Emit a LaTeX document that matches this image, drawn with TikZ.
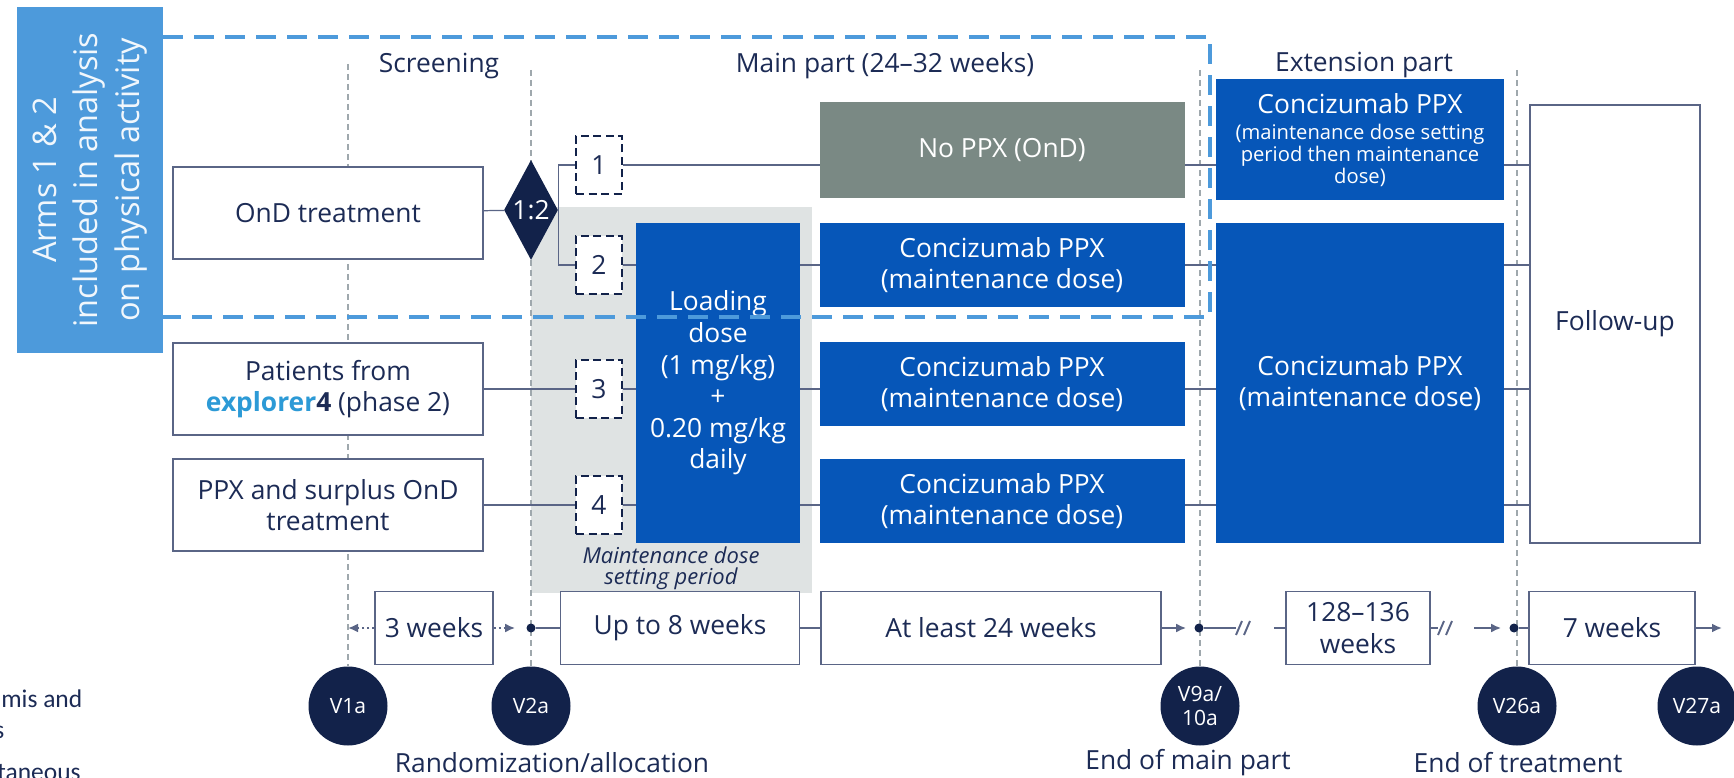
\documentclass[tikz,border=0pt]{standalone}
\usepackage{fontspec}
\setmainfont{Open Sans}
\newfontfamily\legendfont{Carlito}
\usepackage{xcolor}
\usepackage{tikz}
\usetikzlibrary{shapes.geometric,arrows.meta,backgrounds}
\definecolor{navy}{HTML}{12224A}
\definecolor{ink}{HTML}{1C2B55}
\definecolor{wire}{HTML}{5A6586}
\definecolor{dose}{HTML}{0656B8}
\definecolor{armsblue}{HTML}{4D9ADB}
\definecolor{sky}{HTML}{2C9AD6}
\definecolor{ondgray}{HTML}{7A8984}
\definecolor{fog}{HTML}{DFE3E3}
\definecolor{guidegray}{HTML}{9FA8AD}
\NewDocumentCommand{\sz}{mm}{\fontsize{#1}{#2}\selectfont}
\NewDocumentCommand{\explorer}{}{\textbf{\textcolor{sky}{explorer}4}}
\NewDocumentCommand{\gap}{m}{\draw[timeline] (#1) ++(0,7) -- ++(6,-14) (#1) ++(8,7) -- ++(6,-14);}
\tikzset{
	heading/.style={text=ink, inner sep=0pt, align=center, font=\sz{15}{18}},
	legend/.style={text=ink, inner sep=0pt, font=\legendfont\sz{14.5}{17}},
	box/.style={draw=wire, line width=0.8pt, fill=white, text=ink, align=center, inner sep=0pt, font=\sz{15}{18}},
	dosebox/.style={fill=dose, text=white, align=center, inner sep=0pt, font=\sz{15}{18}},
	armsbox/.style={fill=armsblue, text=white!92!armsblue, align=center, inner sep=0pt, font=\sz{18.5}{23.5}},
	armbox/.style={draw=navy, dash pattern=on 1.6mm off 0.9mm, line width=1.5pt, fill=white, text=ink, inner sep=0pt, minimum width=9.2mm, minimum height=11.6mm, font=\sz{15}{18}},
	randomize/.style={diamond, fill=navy, text=white, inner sep=0pt, aspect=0.5, minimum width=10.8mm, minimum height=20mm, font=\sz{15}{18}},
	visit/.style={circle, fill=navy, text=white, align=center, inner sep=0pt, minimum size=15.8mm, font=\sz{12}{14}},
	dot/.style={circle, fill=navy, inner sep=0pt, minimum size=1.8mm},
	link/.style={draw=wire, line width=0.7pt},
	timeline/.style={draw=wire, line width=1.1pt},
	dotline/.style={draw=wire, line width=1.1pt, dash pattern=on 0.5mm off 0.5mm},
	tip/.style={-{Latex[length=2mm,width=1.8mm]}},
	guideline/.style={draw=guidegray, line width=0.6pt, dash pattern=on 1.2mm off 0.8mm},
	region/.style={draw=armsblue, line width=2.6pt, dash pattern=on 4mm off 2.2mm},
}

\begin{document}
\begin{tikzpicture}[x=0.2mm, y=-0.2mm]
	\useasboundingbox (0,0) rectangle (1734,778);
	\begin{scope}[on background layer]
		\path (671,400) node[fill=fog, inner sep=0pt, minimum width=56.2mm, minimum height=77.2mm] (setting) {};
	\end{scope}

	\path (90,180) node[armsbox, rotate=90, minimum width=69.2mm, minimum height=29.2mm] (arms) {Arms 1 \& 2\\included in analysis\\on physical activity};

	\path (439,66) node[heading] (screening) {Screening};
	\path (885,66) node[heading] (mainpart) {Main part (24–32 weeks)};
	\path (1364,65) node[heading] (extension) {Extension part};

	\path (328,213) node[box, minimum width=62mm, minimum height=18.4mm] (ond) {OnD treatment};
	\path (ond) ++(0,176) node[box, minimum width=62mm, minimum height=18.4mm] (patients) {Patients from\\\explorer{} (phase 2)};
	\path (patients) ++(0,116) node[box, minimum width=62mm, minimum height=18.4mm] (surplus) {PPX and surplus OnD\\treatment};
	\path (531,210) node[randomize] (split) {1:2};

	\path (599,165) node[armbox] (arm1) {1};
	\path (arm1) ++(0,100) node[armbox] (arm2) {2};
	\path (599,389) node[armbox] (arm3) {3};
	\path (arm3) ++(0,116) node[armbox] (arm4) {4};

	\path (718,383) node[dosebox, minimum width=32.8mm, minimum height=64mm] (loading) {Loading\\dose\\(1 mg/kg)\\+\\0.20 mg/kg\\daily};
	\path (setting.south) ++(0,-25) node[heading, font=\itshape\sz{12.5}{12}] (settingnote) {Maintenance dose\\setting period};

	\path (1002,150) node[dosebox, fill=ondgray, minimum width=73mm, minimum height=19.2mm] (noppx) {No PPX (OnD)};
	\path (1002,265) node[dosebox, minimum width=73mm, minimum height=16.8mm] (main2) {Concizumab PPX\\(maintenance dose)};
	\path (1002,384) node[dosebox, minimum width=73mm, minimum height=16.8mm] (main3) {Concizumab PPX\\(maintenance dose)};
	\path (1002,501) node[dosebox, minimum width=73mm, minimum height=16.8mm] (main4) {Concizumab PPX\\(maintenance dose)};

	\path (1360,140) node[dosebox, minimum width=57.6mm, minimum height=24.2mm, font=\sz{11.5}{12.5}] (ext1) {{\sz{15}{18}Concizumab PPX}\\[2.3pt](maintenance dose setting\\period then maintenance\\dose)};
	\path (1360,383) node[dosebox, minimum width=57.6mm, minimum height=64mm] (ext2) {Concizumab PPX\\(maintenance dose)};
	\path (1615,324) node[box, minimum width=34mm, minimum height=87.6mm] (followup) {Follow-up};

	\path (434,628) node[box, minimum width=23.6mm, minimum height=14.6mm] (weeks3) {3 weeks};
	\path (680,628) node[box, minimum width=47.8mm, minimum height=14.6mm] (weeks8) {Up to 8 weeks};
	\path (991,628) node[box, minimum width=68mm, minimum height=14.6mm] (weeks24) {At least 24 weeks};
	\path (1358,628) node[box, minimum width=28.8mm, minimum height=14.6mm] (weeks128) {128–136\\weeks};
	\path (1612,628) node[box, minimum width=33.2mm, minimum height=14.6mm] (weeks7) {7 weeks};
	\path (531,628) node[dot] (d1) {};
	\path (1199,628) node[dot] (d2) {};
	\path (1514,628) node[dot] (d3) {};
	\coordinate (c1) at (1236,628);
	\coordinate (c2) at (1274,628);
	\coordinate (c3) at (1438,628);
	\coordinate (c4) at (1474,628);
	\coordinate (tend) at (1722,628);

	\path (348,706) node[visit] (v1a) {V1a};
	\path (531,706) node[visit] (v2a) {V2a};
	\path (1200,706) node[visit] (v9a) {V9a/\\10a};
	\path (1517,706) node[visit] (v26a) {V26a};
	\path (1697,706) node[visit] (v27a) {V27a};

	\path (552,763) node[heading] (randomization) {Randomization/allocation};
	\path (1188,763) node[heading] (endmain) {End of main part};
	\path (1518,763) node[heading] (endtreat) {End of treatment};

	\path (1,707) node[legend, anchor=base west] (legend1) {mis and};
	\path (-6,738) node[legend, anchor=base west] (legend2) {s};
	\path (-3,780) node[legend, anchor=base west] (legend3) {taneous};

	\coordinate (g1) at (348,64);
	\coordinate (g2) at (531,70);
	\coordinate (g3) at (1200,70);
	\coordinate (g4) at (1517,70);

	\begin{scope}[on background layer]
		\draw[guideline] (g1) -- (v1a);
		\draw[guideline] (g2) -- (v2a);
		\draw[guideline] (g3) -- (v9a);
		\draw[guideline] (g4) -- (v26a);
		\draw[link] (ond) -- (split);
		\draw[link] (arm1.west) -| (split.east) |- (arm2.west);
		\draw[link] (patients) -- (arm3);
		\draw[link] (surplus) -- (arm4);
		\draw[link] (arm1) -- (followup.center |- arm1);
		\draw[link] (arm2) -- (followup.center |- arm2);
		\draw[link] (arm3) -- (followup.center |- arm3);
		\draw[link] (arm4) -- (followup.center |- arm4);
		\draw[dotline, tip] (weeks3.west) -- (weeks3.west -| v1a);
		\draw[dotline, tip, shorten >=2.2mm] (weeks3.east) -- (d1);
		\draw[timeline] (d1) -- (weeks8);
		\draw[timeline] (weeks8) -- (weeks24);
		\draw[timeline, tip, shorten >=1.6mm] (weeks24.east) -- (d2);
		\draw[timeline] (d2) -- (c1);
		\draw[timeline] (c2) -- (weeks128);
		\draw[timeline] (weeks128) -- (c3);
		\draw[timeline, tip, shorten >=1.6mm] (c4) -- (d3);
		\draw[timeline] (d3) -- (weeks7);
		\draw[timeline, tip] (weeks7.east) -- (tend);
	\end{scope}
	\gap{c1}
	\gap{c3}

	\coordinate (r1) at (163,37);
	\coordinate (r2) at (1210,37);
	\coordinate (r3) at (1210,317);
	\coordinate (r4) at (163,317);
	\draw[region] (r1) -- (r2) -- (r3) -- (r4);
\end{tikzpicture}
\end{document}
